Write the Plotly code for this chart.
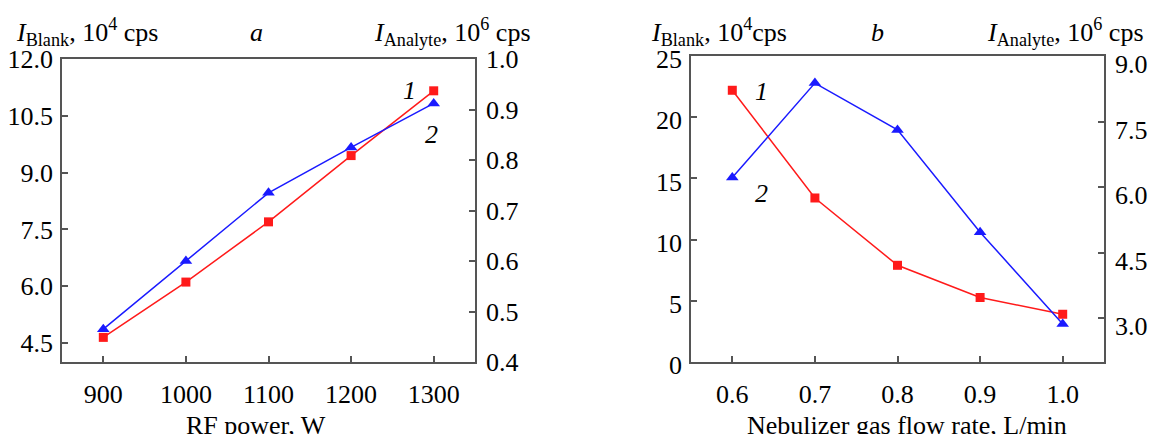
import plotly.graph_objects as go

W, H = 1150, 434

# Panel a data
rf_power = [900, 1000, 1100, 1200, 1300]
blank_a = [4.65, 6.11, 7.70, 9.45, 11.16]
analyte_a = [0.465, 0.600, 0.735, 0.825, 0.912]

# Panel b data
neb_flow = [0.6, 0.7, 0.8, 0.9, 1.0]
blank_b = [22.2, 13.4, 7.9, 5.27, 3.9]
analyte_b = [6.22, 8.38, 7.31, 4.97, 2.87]

# ticks
a_left_ticks = [4.5, 6.0, 7.5, 9.0, 10.5, 12.0]
a_right_ticks = [0.4, 0.5, 0.6, 0.7, 0.8, 0.9, 1.0]
b_left_ticks = [0, 5, 10, 15, 20, 25]
b_right_ticks = [3.0, 4.5, 6.0, 7.5, 9.0]

RED = "#ff1a1a"
BLUE = "#1a1aff"
FRAME = "#555555"
FONT = "Liberation Serif, 'Times New Roman', serif"
FS = 26

def px(x):
    return x / W

def py(y):
    return (H - y) / H

fig = go.Figure()

fig.add_trace(go.Scatter(x=rf_power, y=blank_a, mode="lines+markers", xaxis="x", yaxis="y",
                         line=dict(color=RED, width=1.5),
                         marker=dict(symbol="square", size=9, color=RED)))
fig.add_trace(go.Scatter(x=rf_power, y=analyte_a, mode="lines+markers", xaxis="x", yaxis="y2",
                         line=dict(color=BLUE, width=1.5),
                         marker=dict(symbol="triangle-up", size=11, color=BLUE)))
fig.add_trace(go.Scatter(x=neb_flow, y=blank_b, mode="lines+markers", xaxis="x2", yaxis="y3",
                         line=dict(color=RED, width=1.5),
                         marker=dict(symbol="square", size=9, color=RED)))
fig.add_trace(go.Scatter(x=neb_flow, y=analyte_b, mode="lines+markers", xaxis="x2", yaxis="y4",
                         line=dict(color=BLUE, width=1.5),
                         marker=dict(symbol="triangle-up", size=11, color=BLUE)))

ydom_a = [py(362), py(59)]
ydom_b = [py(362), py(56)]
common = dict(showgrid=False, zeroline=False, showline=True, linecolor=FRAME, linewidth=1.5,
              ticks="inside", ticklen=6, tickcolor=FRAME, tickwidth=1.5, automargin=False,
              tickfont=dict(family=FONT, size=FS, color="black"))

fig.update_layout(
    template="none",
    width=W, height=H, margin=dict(l=0, r=0, t=0, b=0, pad=0, autoexpand=False),
    paper_bgcolor="white", plot_bgcolor="white", showlegend=False,
    xaxis=dict(domain=[px(62), px(475)], range=[850, 1350], tickvals=rf_power,
               anchor="y", mirror=True, ticklabelstandoff=8, **common),
    yaxis=dict(domain=ydom_a, range=[4.0, 12.0], tickvals=a_left_ticks,
               ticktext=[f"{v:.1f}" for v in a_left_ticks], anchor="x",
               ticklabelstandoff=2, **common),
    yaxis2=dict(range=[0.4, 1.0], tickvals=a_right_ticks,
                ticktext=[f"{v:.1f}" for v in a_right_ticks],
                overlaying="y", side="right", anchor="x", ticklabelstandoff=4, **common),
    xaxis2=dict(domain=[px(691), px(1104)], range=[0.55, 1.05], tickvals=neb_flow,
                ticktext=[f"{v:.1f}" for v in neb_flow],
                anchor="y3", mirror=True, ticklabelstandoff=8, **common),
    yaxis3=dict(domain=ydom_b, range=[0, 25], tickvals=b_left_ticks, anchor="x2",
                ticklabelstandoff=2, ticklabelshift=3, **common),
    yaxis4=dict(range=[2.0, 9.0], tickvals=b_right_ticks,
                ticktext=[f"{v:.1f}" for v in b_right_ticks],
                overlaying="y3", side="right", anchor="x2", ticklabelstandoff=4,
                ticklabelshift=8, **common),
)

def ann(x, y, text, xanchor="center", size=FS):
    fig.add_annotation(x=px(x), y=py(y), xref="paper", yref="paper", text=text,
                       showarrow=False, xanchor=xanchor, yanchor="middle",
                       font=dict(family=FONT, size=size, color="black"))

blank_title = "<i>I</i><sub>Blank</sub>, 10<sup>4</sup> cps"
blank_title_b = "<i>I</i><sub>Blank</sub>, 10<sup>4</sup>cps"
analyte_title = "<i>I</i><sub>Analyte</sub>, 10<sup>6</sup> cps"

ann(14, 32, blank_title, "left")
ann(256, 32, "<i>a</i>")
ann(533, 32, analyte_title, "right")
ann(649, 32, blank_title_b, "left")
ann(877, 32, "<i>b</i>")
ann(1146, 32, analyte_title, "right")

ann(256, 425, "RF power, W")
ann(907, 425, "Nebulizer gas flow rate, L/min")

ann(409, 90, "<i>1</i>")
ann(431, 134, "<i>2</i>")
ann(761, 92, "<i>1</i>")
ann(761, 194, "<i>2</i>")

fig.write_html("out.html", config={"displayModeBar": False},
               post_script="document.body.style.margin='0';document.body.style.overflow='hidden';")
